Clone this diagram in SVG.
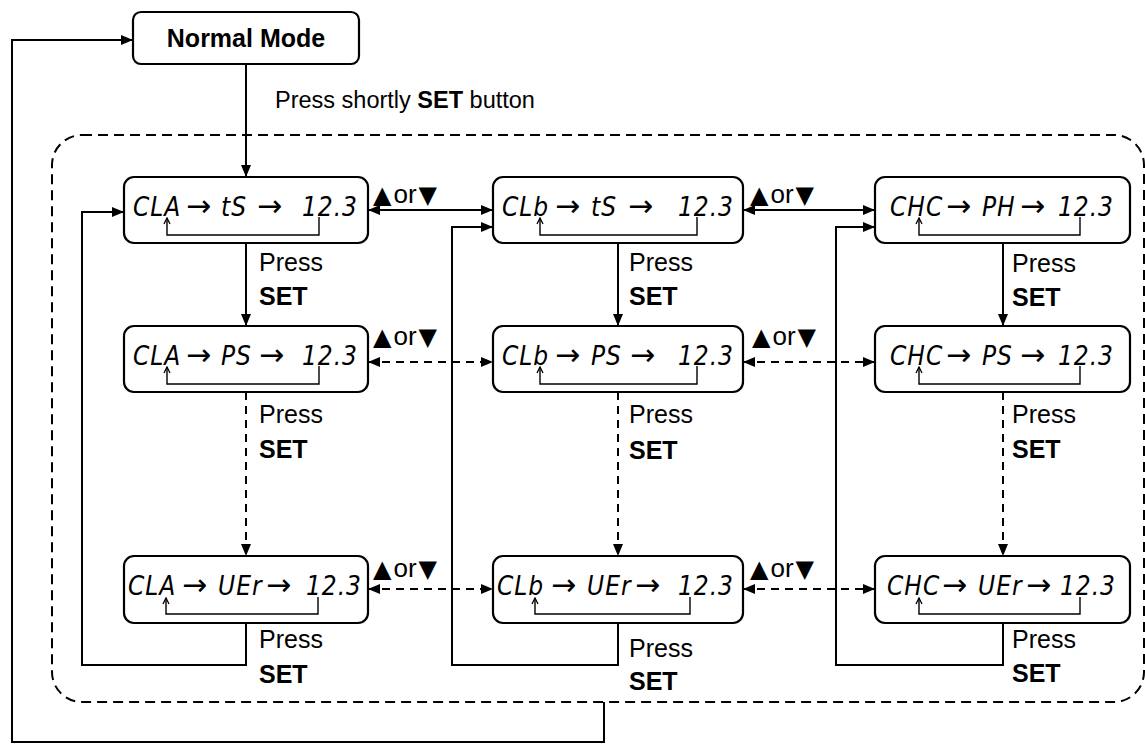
<svg xmlns="http://www.w3.org/2000/svg" width="1145" height="744" viewBox="0 0 1145 744">
<style>
.box{fill:#fff;stroke:#000;stroke-width:2.2}
.ln{fill:none;stroke:#000;stroke-width:2}
.dash{stroke-dasharray:8 6}
.cont{fill:none;stroke:#000;stroke-width:2;stroke-dasharray:10 6}
.br{fill:none;stroke:#000;stroke-width:1.4}
.seg{font-family:"DejaVu Sans",sans-serif;font-stretch:condensed;font-style:italic;font-size:26px;letter-spacing:1px}
.ar{font-family:"DejaVu Sans",sans-serif;font-size:30px}
.lbl{font-family:"Liberation Sans",Arial,sans-serif;font-size:25px}
.tri{font-family:"Liberation Sans",Arial,sans-serif;font-size:26px}
.t{font-family:"DejaVu Sans",sans-serif;font-size:24px}
.b{font-weight:bold}
.end{text-anchor:end}
</style>
<defs>
<marker id="ah" viewBox="0 0 12 10" refX="12" refY="5" markerWidth="12" markerHeight="10" markerUnits="userSpaceOnUse" orient="auto-start-reverse"><path d="M0,0 L12,5 L0,10 z" fill="#000"/></marker>
<marker id="sa" viewBox="0 0 8 8" refX="7" refY="4" markerWidth="8" markerHeight="8" markerUnits="userSpaceOnUse" orient="auto"><path d="M1,1 L7,4 L1,7" fill="none" stroke="#000" stroke-width="1.3"/></marker>
</defs>
<rect width="1145" height="744" fill="#fff"/>
<rect class="cont" x="52" y="135" width="1092" height="567" rx="30"/>

<g id="connectors">
<path class="ln" d="M604,702 V742 H12 V40 H133" marker-end="url(#ah)"/>
<path class="ln" d="M246,64 V177" marker-end="url(#ah)"/>
<path class="ln" d="M246,243 V326" marker-end="url(#ah)"/>
<path class="ln" d="M618,243 V326" marker-end="url(#ah)"/>
<path class="ln" d="M1003,243 V326" marker-end="url(#ah)"/>
<path class="ln dash" d="M246,392 V556" marker-end="url(#ah)"/>
<path class="ln dash" d="M618,392 V556" marker-end="url(#ah)"/>
<path class="ln dash" d="M1003,392 V556" marker-end="url(#ah)"/>
<path class="ln" d="M246,623 V665 H82 V212 H124" marker-end="url(#ah)"/>
<path class="ln" d="M618,623 V665 H452 V227 H493" marker-end="url(#ah)"/>
<path class="ln" d="M1003,623 V665 H836 V227 H875" marker-end="url(#ah)"/>
<path class="ln" d="M368,210 H493" marker-start="url(#ah)" marker-end="url(#ah)"/>
<path class="ln" d="M743,210 H875" marker-start="url(#ah)" marker-end="url(#ah)"/>
<path class="ln dash" d="M368,362 H493" marker-start="url(#ah)" marker-end="url(#ah)"/>
<path class="ln dash" d="M743,362 H875" marker-start="url(#ah)" marker-end="url(#ah)"/>
<path class="ln dash" d="M368,589 H493" marker-start="url(#ah)" marker-end="url(#ah)"/>
<path class="ln dash" d="M743,589 H875" marker-start="url(#ah)" marker-end="url(#ah)"/>
</g>

<g id="labels">
<text class="lbl" x="275" y="108" style="font-size:23.5px">Press shortly <tspan class="b">SET</tspan> button</text>
<text class="tri" x="373" y="203"><tspan class="t">▲</tspan><tspan dx="2">or</tspan><tspan class="t" dx="2">▼</tspan></text>
<text class="tri" x="750" y="203"><tspan class="t">▲</tspan><tspan dx="2">or</tspan><tspan class="t" dx="2">▼</tspan></text>
<text class="tri" x="373" y="345"><tspan class="t">▲</tspan><tspan dx="2">or</tspan><tspan class="t" dx="2">▼</tspan></text>
<text class="tri" x="752" y="345"><tspan class="t">▲</tspan><tspan dx="2">or</tspan><tspan class="t" dx="2">▼</tspan></text>
<text class="tri" x="373" y="577"><tspan class="t">▲</tspan><tspan dx="2">or</tspan><tspan class="t" dx="2">▼</tspan></text>
<text class="tri" x="750" y="577"><tspan class="t">▲</tspan><tspan dx="2">or</tspan><tspan class="t" dx="2">▼</tspan></text>
<text class="lbl" x="259" y="271">Press</text><text class="lbl b" x="259" y="305">SET</text>
<text class="lbl" x="629" y="271">Press</text><text class="lbl b" x="629" y="305">SET</text>
<text class="lbl" x="1012" y="272">Press</text><text class="lbl b" x="1012" y="306">SET</text>
<text class="lbl" x="259" y="423">Press</text><text class="lbl b" x="259" y="458">SET</text>
<text class="lbl" x="629" y="423">Press</text><text class="lbl b" x="629" y="459">SET</text>
<text class="lbl" x="1012" y="423">Press</text><text class="lbl b" x="1012" y="458">SET</text>
<text class="lbl" x="259" y="648">Press</text><text class="lbl b" x="259" y="683">SET</text>
<text class="lbl" x="629" y="657">Press</text><text class="lbl b" x="629" y="690">SET</text>
<text class="lbl" x="1012" y="648">Press</text><text class="lbl b" x="1012" y="682">SET</text>
</g>

<g id="normal-mode">
<rect class="box" x="133" y="12" width="226" height="52" rx="8"/>
<text class="lbl b" x="246" y="47" text-anchor="middle">Normal Mode</text>
</g>

<g id="cla-ts">
<rect class="box" x="124" y="177" width="244" height="66" rx="10"/>
<text class="seg" x="133" y="216">CLA</text><text class="ar" x="186" y="216">→</text><text class="seg" x="221" y="216">tS</text><text class="ar" x="257" y="216">→</text><text class="seg end" x="358" y="216">12.3</text>
<path class="br" d="M319,217 V235 H167 V218" marker-end="url(#sa)"/>
</g>
<g id="clb-ts">
<rect class="box" x="493" y="177" width="250" height="66" rx="10"/>
<text class="seg" x="502" y="216">CLb</text><text class="ar" x="555" y="216">→</text><text class="seg" x="591" y="216">tS</text><text class="ar" x="628" y="216">→</text><text class="seg end" x="734" y="216">12.3</text>
<path class="br" d="M697,217 V235 H540 V218" marker-end="url(#sa)"/>
</g>
<g id="chc-ph">
<rect class="box" x="875" y="177" width="255" height="66" rx="10"/>
<text class="seg" x="890" y="216">CHC</text><text class="ar" x="946" y="216">→</text><text class="seg" x="982" y="216">PH</text><text class="ar" x="1020" y="216">→</text><text class="seg end" x="1114" y="216">12.3</text>
<path class="br" d="M1080,217 V235 H919 V218" marker-end="url(#sa)"/>
</g>

<g id="cla-ps">
<rect class="box" x="124" y="326" width="244" height="66" rx="10"/>
<text class="seg" x="133" y="365">CLA</text><text class="ar" x="186" y="365">→</text><text class="seg" x="221" y="365">PS</text><text class="ar" x="259" y="365">→</text><text class="seg end" x="358" y="365">12.3</text>
<path class="br" d="M319,366 V384 H167 V367" marker-end="url(#sa)"/>
</g>
<g id="clb-ps">
<rect class="box" x="493" y="326" width="250" height="66" rx="10"/>
<text class="seg" x="502" y="365">CLb</text><text class="ar" x="555" y="365">→</text><text class="seg" x="591" y="365">PS</text><text class="ar" x="630" y="365">→</text><text class="seg end" x="734" y="365">12.3</text>
<path class="br" d="M697,366 V384 H540 V367" marker-end="url(#sa)"/>
</g>
<g id="chc-ps">
<rect class="box" x="875" y="326" width="255" height="66" rx="10"/>
<text class="seg" x="890" y="365">CHC</text><text class="ar" x="946" y="365">→</text><text class="seg" x="982" y="365">PS</text><text class="ar" x="1020" y="365">→</text><text class="seg end" x="1114" y="365">12.3</text>
<path class="br" d="M1080,366 V384 H919 V367" marker-end="url(#sa)"/>
</g>

<g id="cla-uer">
<rect class="box" x="124" y="556" width="244" height="67" rx="10"/>
<text class="seg" x="128" y="595">CLA</text><text class="ar" x="182" y="595">→</text><text class="seg" x="218" y="595">UEr</text><text class="ar" x="266" y="595">→</text><text class="seg end" x="362" y="595">12.3</text>
<path class="br" d="M318,597 V614 H166 V598" marker-end="url(#sa)"/>
</g>
<g id="clb-uer">
<rect class="box" x="493" y="556" width="250" height="67" rx="10"/>
<text class="seg" x="497" y="595">CLb</text><text class="ar" x="551" y="595">→</text><text class="seg" x="587" y="595">UEr</text><text class="ar" x="635" y="595">→</text><text class="seg end" x="734" y="595">12.3</text>
<path class="br" d="M690,597 V614 H535 V598" marker-end="url(#sa)"/>
</g>
<g id="chc-uer">
<rect class="box" x="875" y="556" width="255" height="67" rx="10"/>
<text class="seg" x="887" y="595">CHC</text><text class="ar" x="942" y="595">→</text><text class="seg" x="978" y="595">UEr</text><text class="ar" x="1026" y="595">→</text><text class="seg end" x="1116" y="595">12.3</text>
<path class="br" d="M1080,597 V614 H919 V598" marker-end="url(#sa)"/>
</g>
</svg>
